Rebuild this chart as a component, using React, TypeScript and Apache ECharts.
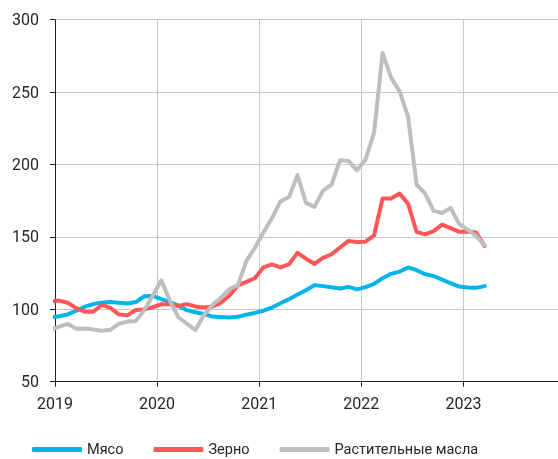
import React, { useEffect, useRef } from "react";
import * as echarts from "echarts";

// Monthly points, Dec 2018 (partly clipped at the left edge) to Mar 2023
const startYear = 2018;
const startMonth = 12;
const meat = [94.5, 95.2, 96.5, 99, 101.8, 103.6, 104.6, 105, 104.6, 104, 105, 109, 109.2, 107, 105, 102.5, 99.4, 98, 96.8, 95, 94.6, 94.3, 94.8, 96.3, 97.5, 99, 101.2, 104.2, 107, 110.2, 113.2, 116.7, 116, 115.2, 114.4, 115.5, 113.8, 115.3, 117.5, 121.5, 124.5, 126, 128.9, 127, 124.3, 123, 120.5, 118, 115.7, 115.1, 114.8, 116];
const grain = [105.5, 106, 104.5, 100.8, 98.3, 98.3, 103, 101, 96.5, 95.8, 99.5, 99.8, 101.5, 103.5, 103.5, 102.3, 103.6, 102, 101.3, 101.8, 104.5, 109.5, 116.5, 119, 121.5, 129, 131, 128.9, 131, 139, 135, 131.3, 135.5, 138, 142.7, 147.2, 146.5, 146.7, 151, 176.5, 176.5, 180, 173, 153.4, 151.7, 154, 158.5, 156, 153.5, 153.5, 153, 143.6];
const oils = [86, 88, 90, 86.5, 86.8, 86, 85.2, 85.8, 90, 91.5, 92, 99.5, 109.5, 120, 106, 94.5, 90, 85.6, 96, 103, 108, 114, 116.7, 133.5, 142.5, 153, 163, 174.5, 177.6, 192.6, 173.5, 170.7, 182, 186, 203, 202.5, 196, 203.5, 222, 277, 260, 250.5, 233, 186, 180, 168, 166.5, 170, 159, 155, 150.5, 144.3];

const yearLabels = ["2019", "2020", "2021", "2022", "2023"];
const seriesNames = ["Мясо", "Зерно", "Растительные масла"];
const colors = ["#00B4EC", "#FF5757", "#BEBEBE"];

const months: string[] = meat.map((_, i) => {
  const m0 = startMonth - 1 + i;
  const y = startYear + Math.floor(m0 / 12);
  const m = (m0 % 12) + 1;
  return `${y}-${String(m).padStart(2, "0")}`;
});

// x position in months since Jan 2019, placed mid-month
const monthPos = (label: string) => {
  const [y, m] = label.split("-").map(Number);
  return (y - 2019) * 12 + (m - 1) + 0.5;
};

const toData = (vals: number[]) => vals.map((v, i) => [monthPos(months[i]), v]);

export default function App() {
  const ref = useRef<HTMLDivElement>(null);
  useEffect(() => {
    if (!ref.current) return;
    const chart = echarts.init(ref.current, undefined, { renderer: "svg" });
    const font = "Roboto, 'Noto Sans', sans-serif";
    const axisColor = "#222";
    chart.setOption({
      animation: false,
      textStyle: { fontFamily: font },
      grid: {
        left: 55,
        width: 510.5,
        top: 19.7,
        height: 362,
        containLabel: false,
        outerBoundsMode: "none",
      },
      xAxis: {
        type: "value",
        min: 0,
        max: 60,
        interval: 12,
        axisLine: { show: true, onZero: false, lineStyle: { color: axisColor, width: 1 } },
        axisTick: { show: true, length: 5, lineStyle: { color: axisColor } },
        splitLine: { show: true, lineStyle: { color: "#c8c8c8", width: 1 } },
        axisLabel: {
          fontSize: 16,
          color: "#262626",
          margin: 14,
          fontFamily: font,
          formatter: (v: number) => {
            const idx = Math.round(v / 12);
            return v % 12 === 0 && idx < yearLabels.length ? yearLabels[idx] : "";
          },
        },
      },
      yAxis: {
        type: "value",
        min: 50,
        max: 300,
        interval: 50,
        axisLine: { show: true, lineStyle: { color: axisColor, width: 1 } },
        axisTick: { show: true, length: 5, lineStyle: { color: axisColor } },
        splitLine: { show: true, lineStyle: { color: "#c8c8c8", width: 1 } },
        axisLabel: { fontSize: 16, color: "#262626", margin: 16, fontFamily: font },
      },
      legend: {
        left: 27,
        top: 437,
        icon: "roundRect",
        itemWidth: 50,
        itemHeight: 5,
        itemGap: 30,
        textStyle: { fontSize: 14.5, color: "#262626", fontFamily: font },
        data: seriesNames,
      },
      series: [meat, grain, oils].map((vals, k) => ({
        name: seriesNames[k],
        type: "line",
        data: toData(vals),
        showSymbol: false,
        symbol: "none",
        clip: true,
        color: colors[k],
        lineStyle: { color: colors[k], width: 4, cap: "round", join: "round" },
      })),
    });
    return () => chart.dispose();
  }, []);
  return (
    <div
      ref={ref}
      style={{ position: "fixed", left: 0, top: 0, width: 558, height: 459 }}
    />
  );
}
